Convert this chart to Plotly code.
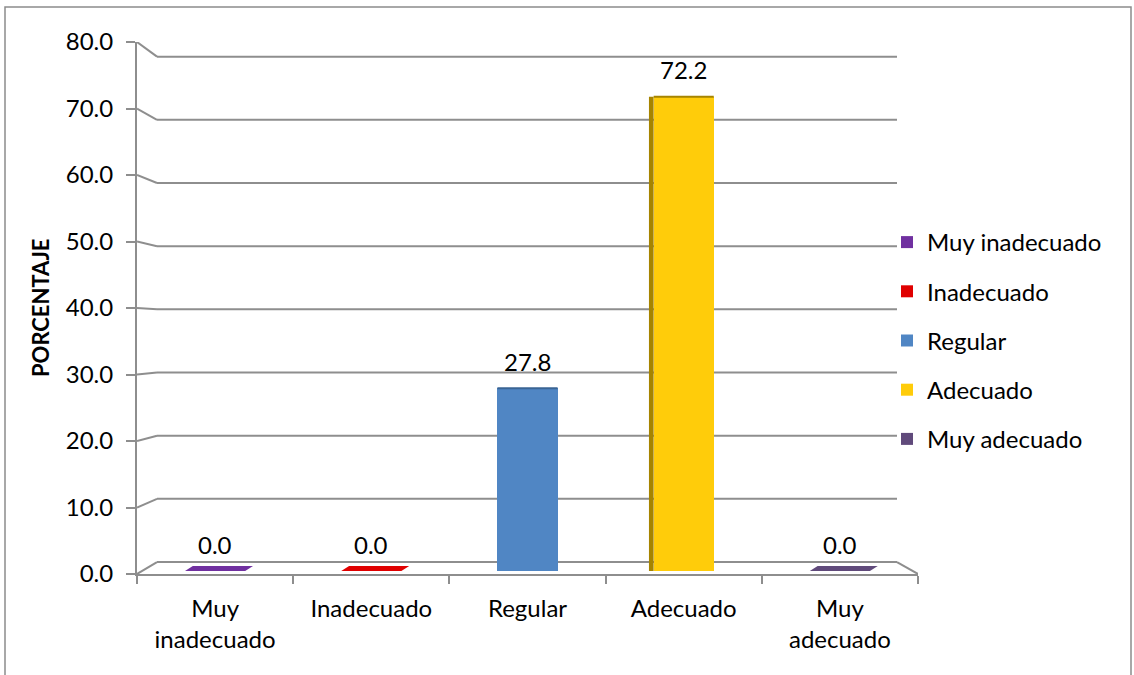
import plotly.graph_objects as go

categories = ["Muy inadecuado", "Inadecuado", "Regular", "Adecuado", "Muy adecuado"]
tick_labels = ["Muy<br>inadecuado", "Inadecuado", "Regular", "Adecuado", "Muy<br>adecuado"]
values = [0.0, 0.0, 27.8, 72.2, 0.0]
colors = ["#7030A0", "#E00000", "#5086C4", "#FFCC0A", "#604A7B"]
side_colors = ["#4A1F6B", "#900000", "#3A6494", "#A68400", "#3F3152"]
y_ticks = [0, 10, 20, 30, 40, 50, 60, 70, 80]

FONT = "Lato"
FS = 24
GRID = "#8E8E8E"
BAR_W = 0.385

W, H = 1134, 675
L, R, T, B = 137, 1134 - 918, 42, 675 - 574
PW, PH = W - L - R, H - T - B
PX_X = PW / 5.0           # px per category

fig = go.Figure()

for i, (c, v, col) in enumerate(zip(categories, values, colors)):
    fig.add_trace(go.Bar(
        x=[i], y=[v], name=c, width=BAR_W, yaxis="y2",
        marker=dict(color=col, line=dict(width=0)),
        legendgroup=c, hoverinfo="name+y",
    ))

shapes = []
# back wall gridlines in perspective (front tick -> back wall)
back_dx = 20 / PX_X
right_dx = 21 / PX_X
for v in y_ticks:
    yb = 1.80 + 0.95 * v
    shapes.append(dict(type="line", xref="x", yref="y", x0=-0.5, y0=v, x1=-0.5 + back_dx, y1=yb,
                       line=dict(color=GRID, width=2), layer="below"))
    shapes.append(dict(type="line", xref="x", yref="y", x0=-0.5 + back_dx, y0=yb, x1=4.5 - right_dx, y1=yb,
                       line=dict(color=GRID, width=2), layer="below"))
shapes.append(dict(type="line", xref="x", yref="y", x0=4.5 - right_dx, y0=1.80, x1=4.5, y1=0,
                   line=dict(color=GRID, width=2), layer="below"))

# 3D top faces / side faces of bars derived from values
dx_top = 0.05
dy_top = 0.75
for i, (v, col, sc) in enumerate(zip(values, colors, side_colors)):
    x0 = i - BAR_W / 2
    x1 = i + BAR_W / 2
    if v == 0:
        path = f"M {x0},{v} L {x1},{v} L {x1 + dx_top},{v + dy_top} L {x0 + dx_top},{v + dy_top} Z"
        shapes.append(dict(type="path", xref="x", yref="y2", path=path, fillcolor=col,
                           line=dict(width=0)))
    else:
        if i >= 3:
            shapes.append(dict(type="rect", xref="x", yref="y2", x0=x0 - 0.03, x1=x0, y0=0, y1=v,
                               fillcolor=sc, line=dict(width=0)))
        shapes.append(dict(type="line", xref="x", yref="y2", x0=x0, x1=x1, y0=v, y1=v,
                           line=dict(color=sc, width=2)))

# outer chart border
shapes.append(dict(type="rect", xref="paper", yref="paper",
                   x0=(5 - L) / PW, x1=(1131 - L) / PW, y0=(574 - 690) / PH, y1=(574 - 7) / PH,
                   line=dict(color="#8C8C8C", width=1.5), fillcolor="rgba(0,0,0,0)", layer="below"))

annotations = []
for i, v in enumerate(values):
    annotations.append(dict(x=i, y=v, xref="x", yref="y2", text=f"{v:.1f}", showarrow=False,
                            yshift=27, font=dict(family=FONT, size=FS, color="#000000")))
annotations.append(dict(x=(40 - L) / PW, y=(574 - 308) / PH, xref="paper", yref="paper",
                        xanchor="center", yanchor="middle",
                        text="<b>PORCENTAJE</b>", textangle=-90, showarrow=False,
                        font=dict(family=FONT, size=22, color="#000000")))

fig.update_layout(
    width=W, height=H,
    margin=dict(l=L, r=R, t=T, b=B, pad=0),
    paper_bgcolor="white", plot_bgcolor="white",
    barmode="overlay",
    font=dict(family=FONT, size=FS, color="#000000"),
    xaxis=dict(range=[-0.5, 4.5], tickvals=list(range(5)), ticktext=tick_labels,
               showgrid=False, zeroline=False, showline=True, linecolor=GRID, linewidth=2,
               ticks="", tickfont=dict(size=FS), ticklabelstandoff=12,
               minor=dict(tickvals=[-0.5, 0.5, 1.5, 2.5, 3.5, 4.5], ticks="outside", ticklen=8,
                          tickcolor=GRID, tickwidth=2, showgrid=False),
               fixedrange=True),
    yaxis=dict(range=[0, 80], tickvals=y_ticks, tickformat=".1f", showgrid=False, zeroline=False,
               showline=True, linecolor=GRID, linewidth=2, ticks="outside", ticklen=9,
               tickcolor=GRID, tickwidth=2, tickfont=dict(size=FS), ticklabelstandoff=8),
    yaxis2=dict(overlaying="y", range=[-(574 - 571) / 6.57, (571 - 42) / 6.57], visible=False),
    legend=dict(x=(887 - L) / PW, y=(574 - 220) / PH, xanchor="left", yanchor="top",
                font=dict(family=FONT, size=FS), tracegroupgap=15, bgcolor="rgba(0,0,0,0)"),
    shapes=shapes,
    annotations=annotations,
    bargap=0,
)

fig.write_html("out.html")
